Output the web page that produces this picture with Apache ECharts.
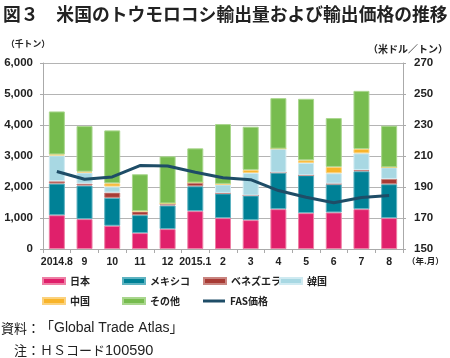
<!DOCTYPE html>
<html><head><meta charset="utf-8">
<script src="https://cdn.jsdelivr.net/npm/echarts@6/dist/echarts.min.js"></script>
<style>html,body{margin:0;padding:0;background:#fff}#c{width:450px;height:358px}</style>
</head><body><div id="c"></div>
<script>
const categories = ['2014.8','9','10','11','12','2015.1','2','3','4','5','6','7','8'];
const japan     = [1090, 965, 750, 514, 643, 1222, 997, 932, 1286, 1158, 1179, 1286, 997];
const mexico    = [1020, 1082, 900, 579, 761, 803, 793, 793, 1179, 1222, 911, 1222, 1093];
const venezuela = [76, 63, 172, 118, 54, 118, 20, 0, 0, 0, 20, 42, 171];
const korea     = [834, 355, 193, 15, 12, 0, 270, 729, 772, 396, 334, 537, 375];
const china     = [30, 30, 105, 0, 0, 0, 20, 96, 0, 86, 203, 139, 0];
const other     = [1387, 1470, 1706, 1185, 1520, 1104, 1930, 1394, 1629, 1983, 1576, 1875, 1340];
const fasPrice  = [200, 195, 196.5, 203.8, 203.6, 199.5, 196, 194.7, 187.7, 183.4, 179.8, 183.2, 184.5];
const leftTicks = [0, 6000, 1000];
const rightTicks = [150, 270, 20];

const C = {
  japan:'#E0206B', mexico:'#008196', venezuela:'#A83B35', korea:'#A8D8E3',
  china:'#F8B42A', other:'#77BC4F', line:'#1E4D67'
};
const B = {
  japan:'#EE7FA5', mexico:'#5FB3C1', venezuela:'#C98580', korea:'#CFEAF1',
  china:'#FBD27E', other:'#A9D68D'
};
const jp = '"Noto Sans CJK JP", sans-serif';
const lat = '"Liberation Sans", "Noto Sans CJK JP", sans-serif';
const narrow = '"Liberation Sans Narrow", "Liberation Sans", sans-serif';

function bar(name, key, data){
  return {name, type:'bar', stack:'t', data, barWidth:16,
    itemStyle:{color:C[key], borderColor:B[key], borderWidth:1},
    emphasis:{disabled:true}};
}
const series = [
  bar('日本','japan',japan),
  bar('メキシコ','mexico',mexico),
  bar('ベネズエラ','venezuela',venezuela),
  bar('韓国','korea',korea),
  bar('中国','china',china),
  bar('その他','other',other),
  {name:'FAS価格', type:'line', yAxisIndex:1, data:fasPrice, symbol:'none',
   lineStyle:{color:C.line, width:3}, itemStyle:{color:C.line}, z:5}
];
function leg(name, left, top, isLine){
  return {data:[name], left, top, itemWidth:22, itemHeight: isLine?3:6, itemGap:0,
    icon:'rect', padding:0,
    textStyle:{fontFamily:jp, fontSize:10, fontWeight:'bold', color:'#222'},
    selectedMode:false};
}
const chart = echarts.init(document.getElementById('c'), null, {renderer:'canvas'});
chart.setOption({
  animation:false,
  grid:{left:43, right:47, top:63, bottom:109, containLabel:false},
  xAxis:{type:'category', data:categories,
    axisLine:{lineStyle:{color:'#AAAAAA', width:1}},
    axisTick:{show:true, length:4, lineStyle:{color:'#AAAAAA'}},
    axisLabel:{interval:0, fontFamily:narrow, fontSize:10.5, fontWeight:'bold', color:'#222', margin:8}},
  yAxis:[
    {type:'value', min:leftTicks[0], max:leftTicks[1], interval:leftTicks[2],
     axisLine:{show:true, lineStyle:{color:'#AAAAAA'}},
     axisTick:{show:true, length:3, lineStyle:{color:'#AAAAAA'}},
     splitLine:{lineStyle:{color:'#B4B4B4', width:1}},
     axisLabel:{fontFamily:lat, fontSize:11.5, fontWeight:'bold', color:'#222', margin:10,
       formatter:v=>v.toLocaleString('en-US')}},
    {type:'value', min:rightTicks[0], max:rightTicks[1], interval:rightTicks[2],
     axisLine:{show:true, lineStyle:{color:'#AAAAAA'}},
     axisTick:{show:true, length:3, lineStyle:{color:'#AAAAAA'}},
     splitLine:{show:false},
     axisLabel:{fontFamily:lat, fontSize:11.5, fontWeight:'bold', color:'#222', margin:11}}
  ],
  legend:[
    leg('日本',42,276), leg('メキシコ',122,276), leg('ベネズエラ',203,276), leg('韓国',279,276),
    leg('中国',42,296), leg('その他',122,296), leg('FAS価格',203,296,true)
  ],
  series,
  graphic:[
    {type:'text', left:3, top:5, style:{text:'図３　米国のトウモロコシ輸出量および輸出価格の推移',
      font:'bold 17.8px "Noto Sans CJK JP"', fill:'#222'}},
    {type:'text', left:6, top:39, style:{text:'（千トン）', font:'bold 8.8px "Noto Sans CJK JP"', fill:'#222'}},
    {type:'text', right:2, top:44, style:{text:'（米ドル／トン）', font:'bold 10px "Noto Sans CJK JP"', fill:'#222'}},
    {type:'text', left:407, top:257, style:{text:'（年.月）', font:'bold 8.5px "Noto Sans CJK JP"', fill:'#222'}},
    {type:'text', left:1, top:321, style:{text:'{a|資料：}{b|「Global Trade Atlas」}',
      rich:{a:{font:'13px "Noto Sans CJK JP"', fill:'#222'}, b:{font:'14px "Liberation Sans", "Noto Sans CJK JP"', fill:'#222'}}}},
    {type:'text', left:14, top:343, style:{text:'{a|注：ＨＳコード}{b|100590}',
      rich:{a:{font:'13px "Noto Sans CJK JP"', fill:'#222'}, b:{font:'14.5px "Liberation Sans"', fill:'#222'}}}}
  ]
});
</script></body></html>
